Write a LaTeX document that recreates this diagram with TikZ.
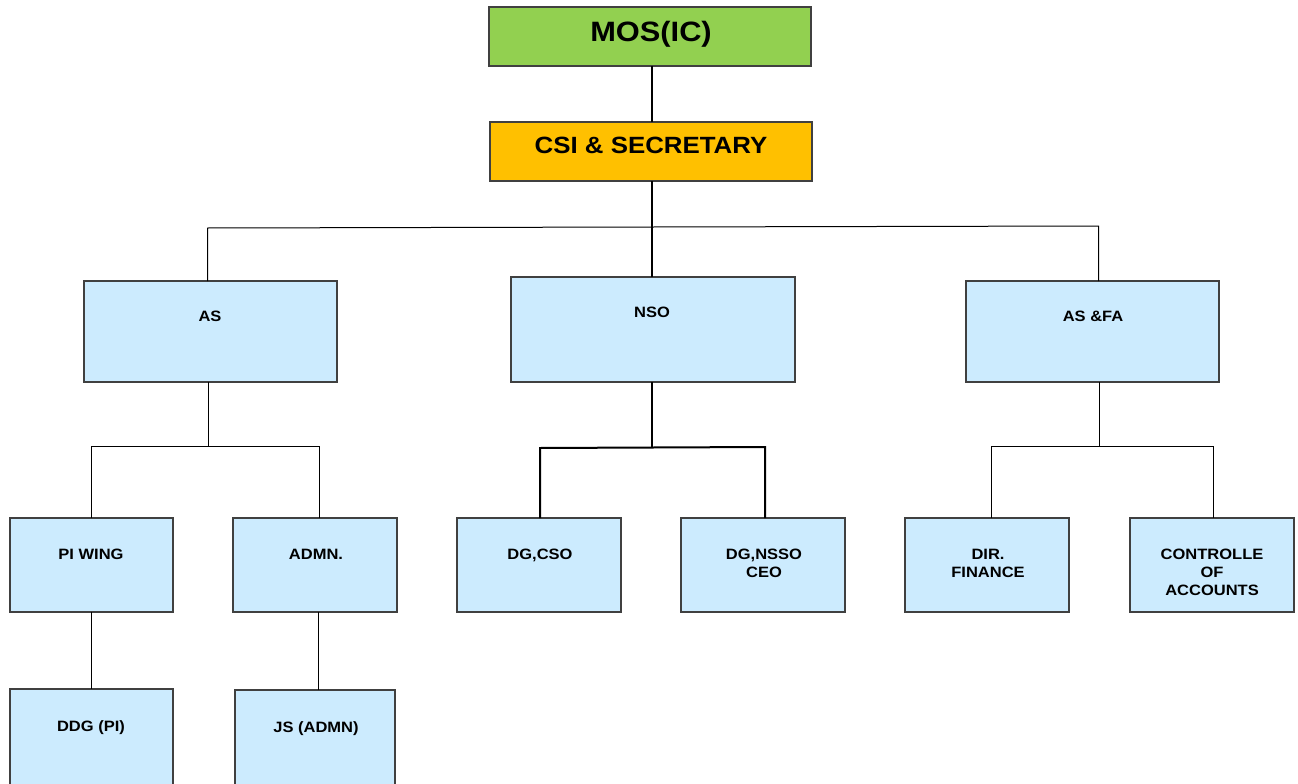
\documentclass[tikz,border=0pt]{standalone}
\usepackage{fontspec}
\setmainfont{Liberation Sans}
\newfontfamily\lblfont[FakeStretch=1.1]{Liberation Sans}
\begin{document}
\begin{tikzpicture}[x=1pt,y=-1pt,
  box/.style={draw=black!75,line width=1.2pt,inner sep=0pt,outer sep=0pt},
  blue/.style={box,fill=lightblue},
  lbl/.style={anchor=base,inner sep=0pt,align=center,font=\lblfont\bfseries\fontsize{15}{18}\selectfont},
  thin/.style={draw=black,line width=1pt},
  thick/.style={draw=black,line width=2pt}]
\definecolor{lightblue}{HTML}{CCEBFE}
\definecolor{topgreen}{HTML}{92D050}
\definecolor{toporange}{HTML}{FFC000}
\useasboundingbox (0,0) rectangle (1298,784);
% boxes
\node[box,fill=topgreen,minimum width=322,minimum height=59] (mos) at (650,36.5) {};
\node[box,fill=toporange,minimum width=322,minimum height=59] (csi) at (651,151.5) {};
\node[blue,minimum width=253,minimum height=101] (as) at (210.5,331.5) {};
\node[blue,minimum width=284,minimum height=105] (nso) at (653,329.5) {};
\node[blue,minimum width=253,minimum height=101] (asfa) at (1092.5,331.5) {};
\node[blue,minimum width=163,minimum height=94] (piw) at (91.5,565) {};
\node[blue,minimum width=164,minimum height=94] (admn) at (315,565) {};
\node[blue,minimum width=164,minimum height=94] (dgcso) at (539,565) {};
\node[blue,minimum width=164,minimum height=94] (dgnsso) at (763,565) {};
\node[blue,minimum width=164,minimum height=94] (dir) at (987,565) {};
\node[blue,minimum width=164,minimum height=94] (ctrl) at (1212,565) {};
\node[blue,minimum width=163,minimum height=100] (ddg) at (91.5,739) {};
\node[blue,minimum width=160,minimum height=100] (js) at (315,740) {};
% labels
\node[lbl,font=\lblfont\bfseries\fontsize{28}{32}\selectfont] (tmos) at (651,42) {MOS(IC)};
\node[lbl,font=\lblfont\bfseries\fontsize{23.5}{28}\selectfont] (tcsi) at (651,153) {CSI \& SECRETARY};
\node[lbl] (tas) at (210,321) {AS};
\node[lbl] (tnso) at (652,317) {NSO};
\node[lbl] (tasfa) at (1093,321) {AS \&FA};
\node[lbl] (tpiw) at (91,559) {PI WING};
\node[lbl] (tadmn) at (316,559) {ADMN.};
\node[lbl] (tdgcso) at (540,559) {DG,CSO};
\node[lbl] (tdgnsso) at (764,577) {DG,NSSO\\CEO};
\node[lbl] (tdir) at (988,577) {DIR.\\FINANCE};
\node[lbl] (tctrl) at (1212,595) {CONTROLLE\\OF\\ACCOUNTS};
\node[lbl] (tddg) at (91,731) {DDG (PI)};
\node[lbl] (tjs) at (316,732) {JS (ADMN)};
% connectors
\coordinate (busL) at (207.5,228);
\coordinate (busR) at (1098.5,226);
\coordinate (asJ) at (208,446);
\coordinate (nsoJ) at (652,447);
\coordinate (fa) at (1099,446);
\draw[thick] (mos.south -| 652,0) -- (csi.north -| 652,0);
\draw[thick] (csi.south -| 652,0) -- (nso.north -| 652,0);
\draw[thin] (as.north -| busL) -- (busL) -- (busR) -- (asfa.north -| busR);
% AS branch
\draw[thin] (as.south -| asJ) -- (asJ);
\draw[thin] (piw.north -| 91,0) -- (91,446) -- (319,446) -- (admn.north -| 319,0);
% NSO branch
\draw[thick] (nso.south -| nsoJ) -- (nsoJ);
\draw[thick] (dgcso.north -| 540,0) -- (540,448) -- (765,447) -- (dgnsso.north -| 765,0);
% AS&FA branch
\draw[thin] (asfa.south -| fa) -- (fa);
\draw[thin] (dir.north -| 991,0) -- (991,446) -- (1213,446) -- (ctrl.north -| 1213,0);
% lower
\draw[thin] (piw.south -| 91,0) -- (ddg.north -| 91,0);
\draw[thin] (admn.south -| 318,0) -- (js.north -| 318,0);
\end{tikzpicture}
\end{document}
